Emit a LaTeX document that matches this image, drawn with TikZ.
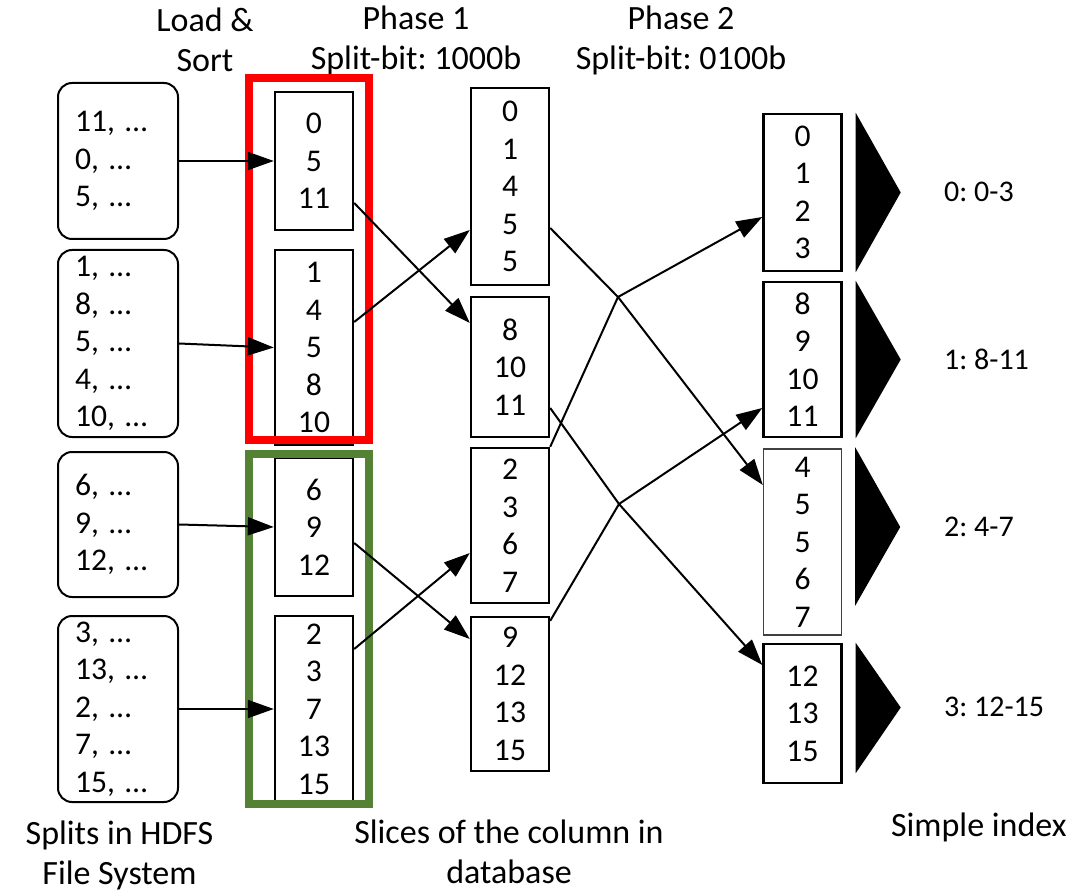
\documentclass[tikz,border=0pt]{standalone}
\usepackage{fontspec}
\setmainfont{Carlito}
\usetikzlibrary{arrows.meta, positioning, calc}
\definecolor{groupgreen}{RGB}{84,130,53}
\frenchspacing

\begin{document}
\begin{tikzpicture}[x=0.5pt, y=-0.5pt,
    % Styles
    splitbox/.style={draw, line width=1pt, rounded corners=7pt, minimum width=60pt,
        text width=43pt, inner xsep=8.5pt, inner ysep=0pt, align=left,
        font=\fontsize{15.8}{18.75}\selectfont},
    slicebox/.style={draw, line width=1.2pt, minimum width=39pt, inner sep=0pt,
        align=center, font=\fontsize{15.8}{18.75}\selectfont},
    paleslice/.style={slicebox, line width=0.7pt, draw=black!75},
    groupframe/.style={draw, line width=3.6pt, minimum width=60pt, inner sep=0pt},
    titletext/.style={align=center, font=\fontsize{17}{20}\selectfont},
    idxlabel/.style={anchor=west, font=\fontsize{15}{18}\selectfont},
    arrowstyle/.style={-{Triangle[length=13pt, width=9pt]}, line width=1pt},
]
    \useasboundingbox (0,0) rectangle (1085,892);

    % Column titles
    \node[titletext] (ttlload) at (205, 40) {Load \&\\Sort};
    \node[titletext] (ttlphaseA) at (416, 40) {Phase 1\\Split-bit: 1000b};
    \node[titletext] (ttlphaseB) at (681, 40) {Phase 2\\Split-bit: 0100b};

    % Splits in HDFS
    \node[splitbox, minimum height=78pt] (s1) at (118, 161) {11, …\\0, …\\5, …};
    \node[splitbox, minimum height=93.5pt] (s2) at (118, 343.5) {1, …\\8, …\\5, …\\4, …\\10, …};
    \node[splitbox, minimum height=72.5pt] (s3) at (118, 524.5) {6, …\\9, …\\12, …};
    \node[splitbox, minimum height=93pt] (s4) at (118, 709) {3, …\\13, …\\2, …\\7, …\\15, …};

    % Phase 1 slices
    \node[slicebox, minimum height=69pt] (p1a) at (314, 161) {0\\5\\11};
    \node[slicebox, minimum height=97.5pt] (p1b) at (314, 347.5) {1\\4\\5\\8\\10};
    \node[slicebox, minimum height=69pt] (p1c) at (314, 527) {6\\9\\12};
    \node[slicebox, minimum height=93pt] (p1d) at (314, 709) {2\\3\\7\\13\\15};

    % Phase 2 slices
    \node[slicebox, minimum height=98.5pt] (m1) at (510, 186.5) {0\\1\\4\\5\\5};
    \node[slicebox, minimum height=70pt] (m2) at (510, 367) {8\\10\\11};
    \node[slicebox, minimum height=77.5pt] (m3) at (510, 525.5) {2\\3\\6\\7};
    \node[slicebox, minimum height=77pt] (m4) at (510, 694) {9\\12\\13\\15};

    % Final slices
    \node[slicebox, minimum height=78.5pt] (r1) at (802.5, 192.5) {0\\1\\2\\3};
    \node[slicebox, minimum height=77.5pt] (r2) at (802.5, 359.5) {8\\9\\10\\11};
    \node[paleslice, minimum height=93pt] (r3) at (802.5, 542) {4\\5\\5\\6\\7};
    \node[slicebox, minimum height=69.5pt] (r4) at (802.5, 713.5) {12\\13\\15};

    % Groups of phase 1
    \node[groupframe, draw=red, minimum height=181pt] (grpred) at (309, 259) {};
    \node[groupframe, draw=groupgreen, minimum height=175pt] (grpgreen) at (309, 629) {};

    % Load & sort arrows
    \draw[arrowstyle] (s1.east) -- (p1a.west);
    \draw[arrowstyle] (s2.east) -- (p1b.west);
    \draw[arrowstyle] (s3.east) -- (p1c.west);
    \draw[arrowstyle] (s4.east) -- (p1d.west);

    % Phase 1 arrows
    \draw[arrowstyle] ($(p1a.east)+(0,42)$) -- ($(m2.west)+(0,-44)$);
    \draw[arrowstyle] ($(p1b.east)+(0,-25.5)$) -- ($(m1.west)+(0,43.5)$);
    \draw[arrowstyle] ($(p1c.east)+(0,16)$) -- ($(m4.west)+(0,-55)$);
    \draw[arrowstyle] ($(p1d.east)+(0,-60)$) -- ($(m3.west)+(0,27.5)$);

    % Phase 2 arrows, crossing points
    \coordinate (xa) at (618, 297);
    \coordinate (xb) at (619, 504);
    \draw[arrowstyle] ($(m1.east)+(0,41.5)$) -- (xa) -- ($(r3.west)+(0,-57)$);
    \draw[arrowstyle] (m3.north east) -- (xa) -- ($(r1.west)+(0,24.5)$);
    \draw[arrowstyle] ($(m2.east)+(0,41)$) -- (xb) -- ($(r4.west)+(0,-48.5)$);
    \draw[arrowstyle] ($(m4.north east)+(0,5)$) -- (xb) -- ($(r2.west)+(0,48.5)$);

    % Index markers
    \fill ($(r1.north east)+(13,0)$) -- ($(r1.east)+(58,0)$) -- ($(r1.south east)+(13,0)$) -- cycle;
    \fill ($(r2.north east)+(13,0)$) -- ($(r2.east)+(58,0)$) -- ($(r2.south east)+(13,0)$) -- cycle;
    \fill ($(r3.north east)+(13,-1)$) -- ($(r3.east)+(58,-15)$) -- ($(r3.south east)+(13,-30)$) -- cycle;
    \fill ($(r4.north east)+(13,0)$) -- ($(r4.east)+(58,-6)$) -- ($(r4.south east)+(13,-11)$) -- cycle;

    % Index labels
    \node[idxlabel] (idx0) at (937, 192) {0: 0-3};
    \node[idxlabel] (idx1) at (937, 359) {1: 8-11};
    \node[idxlabel] (idx2) at (937, 527) {2: 4-7};
    \node[idxlabel] (idx3) at (937, 707) {3: 12-15};

    % Captions
    \node[titletext] (capsplit) at (119.5, 855) {Splits in HDFS\\File System};
    \node[titletext] (capslice) at (509, 852) {Slices of the column in\\database};
    \node[titletext, anchor=west] (capindex) at (884, 827) {Simple index};

\end{tikzpicture}
\end{document}
